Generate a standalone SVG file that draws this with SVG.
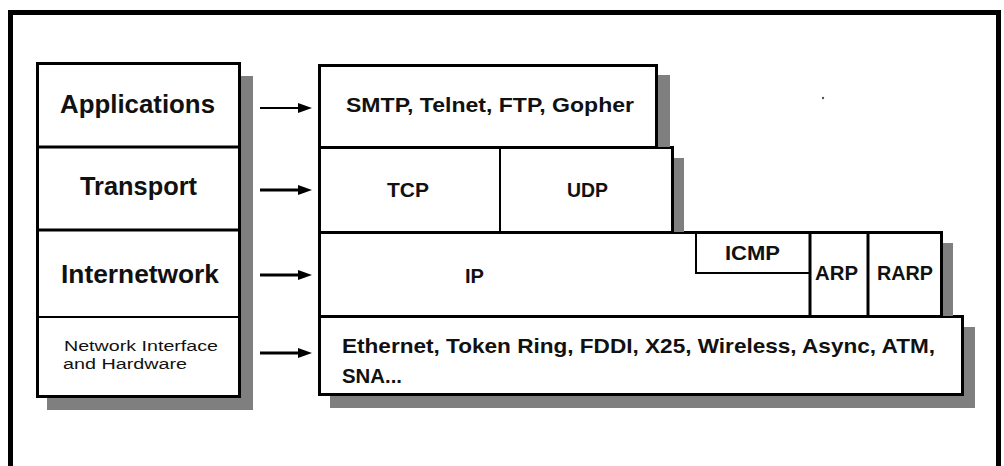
<svg xmlns="http://www.w3.org/2000/svg" width="1004" height="466" viewBox="0 0 1004 466">
<style>
.box{fill:#fff;stroke:#000;stroke-width:3}
.shadow{fill:#7f7f7f}
.ln{stroke:#000;fill:none}
.big{font-family:"Liberation Sans",Arial,sans-serif;font-weight:bold;font-size:25px;fill:#111}
.mid{font-family:"Liberation Sans",Arial,sans-serif;font-weight:bold;font-size:21px;fill:#111}
.sm{font-family:"Liberation Sans",Arial,sans-serif;font-size:15.5px;fill:#111}
.arr{stroke:#000;stroke-width:3;fill:none}
</style>
<defs>
<path id="arrowhead" d="M0,-5 L14,0 L0,5 z"/>
</defs>
<rect x="0" y="0" width="1004" height="466" fill="#fff"/>
<rect x="10.5" y="12.5" width="988" height="470" fill="none" stroke="#000" stroke-width="5"/>
<circle cx="823" cy="98" r="1.2" fill="#555"/>

<g id="left-stack">
<rect class="shadow" x="241" y="76" width="12" height="334"/>
<rect class="shadow" x="47" y="398" width="206" height="12"/>
<rect class="box" x="37.5" y="63.5" width="202" height="333"/>
<g id="applications">
<text class="big" x="60" y="113" textLength="155" lengthAdjust="spacingAndGlyphs">Applications</text>
</g>
<line class="ln" stroke-width="3" x1="37" y1="147" x2="240" y2="147"/>
<g id="transport">
<text class="big" x="80" y="195" textLength="117" lengthAdjust="spacingAndGlyphs">Transport</text>
</g>
<line class="ln" stroke-width="3" x1="37" y1="230" x2="240" y2="230"/>
<g id="internetwork">
<text class="big" x="61" y="283" textLength="158" lengthAdjust="spacingAndGlyphs">Internetwork</text>
</g>
<line class="ln" stroke-width="2" x1="37" y1="317" x2="240" y2="317"/>
<g id="network-interface">
<text class="sm" x="64" y="351" textLength="154" lengthAdjust="spacingAndGlyphs">Network Interface</text>
<text class="sm" x="63" y="369" textLength="124" lengthAdjust="spacingAndGlyphs">and Hardware</text>
</g>
</g>

<g id="connectors">
<line class="ln" stroke-width="2" x1="260" y1="108" x2="300" y2="108"/>
<use href="#arrowhead" x="298" y="108"/>
<line class="arr" x1="260" y1="190" x2="300" y2="190"/>
<use href="#arrowhead" x="298" y="190"/>
<line class="arr" x1="260" y1="275" x2="300" y2="275"/>
<use href="#arrowhead" x="298" y="275"/>
<line class="arr" x1="260" y1="353" x2="300" y2="353"/>
<use href="#arrowhead" x="298" y="353"/>
</g>

<g id="right-stack">
<g id="ethernet">
<rect class="shadow" x="964" y="327" width="11" height="81"/>
<rect class="shadow" x="330" y="396" width="645" height="12"/>
<rect class="box" x="319.5" y="316.5" width="643" height="78"/>
<text class="mid" x="342" y="353" textLength="593" lengthAdjust="spacingAndGlyphs">Ethernet, Token Ring, FDDI, X25, Wireless, Async, ATM,</text>
<text class="mid" x="342" y="383" textLength="60" lengthAdjust="spacingAndGlyphs">SNA...</text>
</g>
<g id="ip">
<rect class="shadow" x="943" y="243" width="10" height="73"/>
<rect class="box" x="319.5" y="232.5" width="622" height="84"/>
<text class="mid" x="465" y="283" textLength="19" lengthAdjust="spacingAndGlyphs">IP</text>
</g>
<g id="icmp">
<path class="ln" stroke-width="2" d="M696,233 V273 H810"/>
<text class="mid" x="725" y="260" textLength="55" lengthAdjust="spacingAndGlyphs">ICMP</text>
</g>
<g id="arp">
<line class="ln" stroke-width="3" x1="810" y1="232" x2="810" y2="316"/>
<text class="mid" x="815" y="280" textLength="43" lengthAdjust="spacingAndGlyphs">ARP</text>
</g>
<g id="rarp">
<line class="ln" stroke-width="3" x1="868" y1="232" x2="868" y2="316"/>
<text class="mid" x="877" y="280" textLength="56" lengthAdjust="spacingAndGlyphs">RARP</text>
</g>
<g id="tcp-udp">
<rect class="shadow" x="674" y="158" width="10" height="74"/>
<rect class="box" x="319.5" y="147.5" width="353" height="85"/>
<line class="ln" stroke-width="2" x1="500" y1="148" x2="500" y2="232"/>
<g id="tcp"><text class="mid" x="387" y="197" textLength="42" lengthAdjust="spacingAndGlyphs">TCP</text></g>
<g id="udp"><text class="mid" x="567" y="197" textLength="41" lengthAdjust="spacingAndGlyphs">UDP</text></g>
</g>
<g id="smtp">
<rect class="shadow" x="658" y="75" width="12" height="72"/>
<rect class="box" x="319.5" y="65.5" width="337" height="82"/>
<text class="mid" x="346" y="112" textLength="288" lengthAdjust="spacingAndGlyphs">SMTP, Telnet, FTP, Gopher</text>
</g>
</g>
</svg>
